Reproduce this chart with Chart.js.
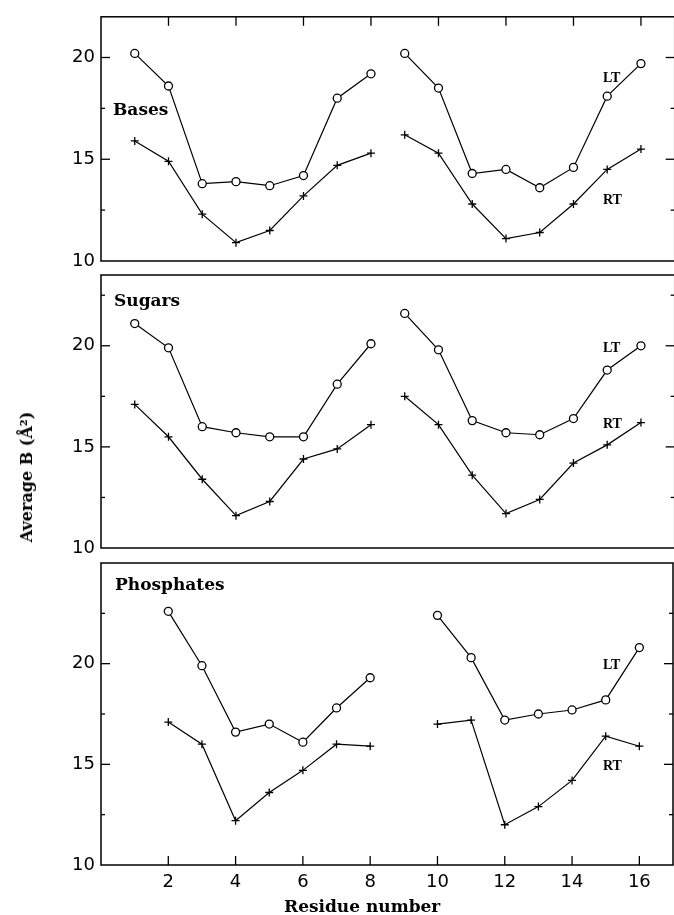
<!DOCTYPE html>
<html>
<head>
<meta charset="utf-8">
<script src="https://cdn.jsdelivr.net/npm/chart.js@4/dist/chart.umd.min.js"></script>
<style>
html,body{margin:0;padding:0;background:#fff;overflow:hidden;width:674px;height:915px;position:relative}
canvas{position:absolute;left:0;top:0}
.lbl{position:absolute;font-family:"DejaVu Serif",serif;font-weight:bold;color:#000;white-space:nowrap;line-height:1}
.pl{font-size:17px}
.st{font-family:"Liberation Serif",serif;font-size:14px}
</style>
</head>
<body>
<canvas id="c1" width="680" height="915"></canvas>
<canvas id="c2" width="680" height="915"></canvas>
<canvas id="c3" width="680" height="915"></canvas>

<div class="lbl pl" style="left:113px;top:101px">Bases</div>
<div class="lbl pl" style="left:114px;top:292px">Sugars</div>
<div class="lbl pl" style="left:115px;top:576px">Phosphates</div>

<div class="lbl st" style="left:603px;top:71px">LT</div>
<div class="lbl st" style="left:603px;top:193px">RT</div>
<div class="lbl st" style="left:603px;top:341px">LT</div>
<div class="lbl st" style="left:603px;top:417px">RT</div>
<div class="lbl st" style="left:603px;top:658px">LT</div>
<div class="lbl st" style="left:603px;top:759px">RT</div>

<div class="lbl" style="font-size:16px;left:27px;top:477px;transform:translate(-50%,-50%) rotate(-90deg)">Average B (Å²)</div>
<div class="lbl" style="font-size:17px;left:284px;top:898px">Residue number</div>

<script>
// ---- data ----
const residues = [1,2,3,4,5,6,7,8,9,10,11,12,13,14,15,16];
const xTickValues = [2,4,6,8,10,12,14,16];
const yLabelValues = [10,15,20];

const basesLT  = [20.2,18.6,13.8,13.9,13.7,14.2,18.0,19.2, 20.2,18.5,14.3,14.5,13.6,14.6,18.1,19.7];
const basesRT  = [15.9,14.9,12.3,10.9,11.5,13.2,14.7,15.3, 16.2,15.3,12.8,11.1,11.4,12.8,14.5,15.5];
const sugarsLT = [21.1,19.9,16.0,15.7,15.5,15.5,18.1,20.1, 21.6,19.8,16.3,15.7,15.6,16.4,18.8,20.0];
const sugarsRT = [17.1,15.5,13.4,11.6,12.3,14.4,14.9,16.1, 17.5,16.1,13.6,11.7,12.4,14.2,15.1,16.2];
const phosLT   = [null,22.6,19.9,16.6,17.0,16.1,17.8,19.3, null,22.4,20.3,17.2,17.5,17.7,18.2,20.8];
const phosRT   = [null,17.1,16.0,12.2,13.6,14.7,16.0,15.9, null,17.0,17.2,12.0,12.9,14.2,16.4,15.9];

Chart.defaults.font.family = '"DejaVu Sans", sans-serif';
Chart.defaults.font.size = 18;
Chart.defaults.color = '#000';

function strand(vals, s){
  const out = [];
  for (let i = s*8; i < s*8+8; i++) out.push({x: residues[i], y: vals[i]});
  return out;
}

const frame = {
  id: 'frame',
  afterDatasetsDraw(chart, args, opts){
    const {ctx, chartArea: a, scales: {x, y}} = chart;
    ctx.save();
    ctx.strokeStyle = '#000';
    ctx.lineWidth = 1.5;
    ctx.strokeRect(a.left, a.top, a.right - a.left, a.bottom - a.top);
    ctx.lineWidth = 1.3;
    const line = (x1,y1,x2,y2)=>{ctx.beginPath();ctx.moveTo(x1,y1);ctx.lineTo(x2,y2);ctx.stroke();};
    for (let v = y.min + 2.5; v < y.max; v += 2.5) {
      const py = y.getPixelForValue(v);
      const len = (v % 5 === 0) ? 9 : 4;
      line(a.left, py, a.left + len, py);
      line(a.right, py, a.right - len, py);
    }
    xTickValues.forEach(v => {
      const px = x.getPixelForValue(v);
      if (opts.xTop) line(px, a.top, px, a.top + 9);
      if (opts.xBottom) line(px, a.bottom, px, a.bottom - 9);
    });
    ctx.restore();
  }
};

function makeChart(id, ymin, ymax, padTop, padBottom, showX, xTop, lt, rt){
  const ds = [];
  [lt, rt].forEach((vals, k) => {
    [0,1].forEach(s => {
      ds.push({
        data: strand(vals, s),
        borderColor: '#000',
        borderWidth: 1.2,
        pointStyle: k === 0 ? 'circle' : 'cross',
        pointRadius: 4,
        pointBorderWidth: 1.3,
        pointBackgroundColor: '#fff',
        pointBorderColor: '#000',
        fill: false,
        tension: 0,
        spanGaps: false
      });
    });
  });
  const xScale = {
    type: 'linear', min: 0, max: 17, display: showX,
    grid: {display: false, drawTicks: false},
    border: {display: false},
    ticks: {stepSize: 2, padding: 7, autoSkip: false, maxRotation: 0,
            callback: v => xTickValues.includes(v) ? String(v) : ''}
  };
  if (showX) xScale.afterFit = s => { s.height = 50; };
  return new Chart(document.getElementById(id), {
    type: 'line',
    data: {datasets: ds},
    plugins: [frame],
    options: {
      responsive: false,
      animation: false,
      devicePixelRatio: 1,
      events: [],
      layout: {padding: {left: 0, right: 5, top: padTop, bottom: padBottom}},
      plugins: {
        legend: {display: false},
        tooltip: {enabled: false},
        frame: {xTop: xTop, xBottom: showX}
      },
      scales: {
        x: xScale,
        y: {
          type: 'linear', min: ymin, max: ymax,
          grid: {display: false, drawTicks: false},
          border: {display: false},
          ticks: {stepSize: 2.5, padding: 6, autoSkip: false,
                  callback: v => yLabelValues.includes(v) ? String(v) : ''},
          afterFit: s => { s.width = 101; }
        }
      }
    }
  });
}

makeChart('c1', 10, 22, 16, 915 - 261, false, true, basesLT, basesRT);
makeChart('c2', 10, 23.5, 275, 915 - 548, false, false, sugarsLT, sugarsRT);
makeChart('c3', 10, 25, 563, 0, true, false, phosLT, phosRT);
</script>
</body>
</html>
